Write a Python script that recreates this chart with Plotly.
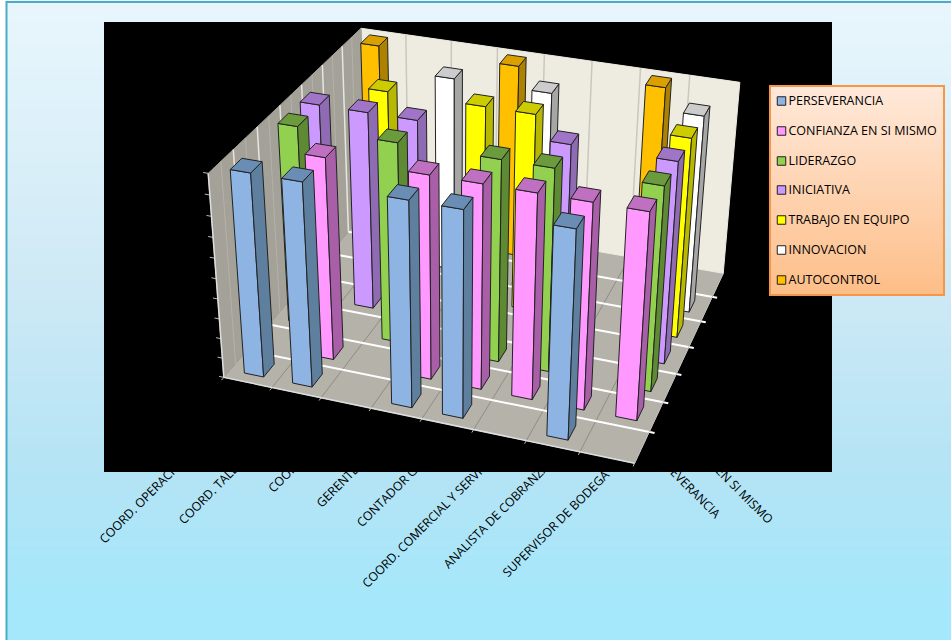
import numpy as np
import plotly.graph_objects as go

# Job titles along the front edge of the floor
categories = ['COORD. OPERACIONES', 'COORD. TALLER', 'COORD. ADMINISTRATIVO', 'GERENTE GENERAL',
              'CONTADOR GENERAL', 'COORD. COMERCIAL Y SERVICIO', 'ANALISTA DE COBRANZAS', 'SUPERVISOR DE BODEGA']

# Competencies, front row first
series_names = ['PERSEVERANCIA', 'CONFIANZA EN SI MISMO', 'LIDERAZGO', 'INICIATIVA',
                'TRABAJO EN EQUIPO', 'INNOVACION', 'AUTOCONTROL']

# Score per job title; None means no bar
perseverancia = [100, 100, None, 100, 100, None, 100, None]
confianza = [None, 100, None, 100, 100, 100, 100, 100]
liderazgo = [100, None, 100, None, 100, 100, None, 100]
iniciativa = [100, 100, 100, None, None, 100, None, 100]
trabajo_equipo = [None, 100, None, 100, 100, None, None, 100]
innovacion = [None, None, 100, None, 100, None, None, 100]
autocontrol = [100, None, None, 100, None, None, 100, None]
series_values = [perseverancia, confianza, liderazgo, iniciativa, trabajo_equipo, innovacion, autocontrol]

# Front, side and top shade of each series
shades = [('#8DB4E3', '#5F7F9F', '#6A8DB5'), ('#FF99FF', '#A85FA8', '#C070C0'),
          ('#92D050', '#5E8A33', '#6B9B3C'), ('#CC99FF', '#8F6BB3', '#A075C8'),
          ('#FFFF00', '#B8B800', '#CCCC00'), ('#FFFFFF', '#A6A6A6', '#CCCCCC'),
          ('#FFC000', '#AD8200', '#D9A000')]

# Perspective camera: (category, series, value) -> page position
CAMERA = np.array([[45.898221, 29.082149, -0.2893554, 223.86156],
                   [6.7513682, -18.72905, -2.1505362, 377.36597],
                   [-0.0085786223, 0.023903367, -0.00063748605, 1.0]])
BAR_W, BAR_D = 0.40, 0.47
EDGE = '#222222'
N_CAT, N_SER, TOP = len(categories), len(series_names), 100


def project(points):
    h = np.c_[np.array(points, float), np.ones(len(points))] @ CAMERA.T
    return h[:, :2] / h[:, 2:]


fig = go.Figure()


def face(points, fill, line=None, width=1):
    p = project(points)
    fig.add_trace(go.Scatter(x=list(p[:, 0]) + [p[0, 0]], y=list(p[:, 1]) + [p[0, 1]], mode='lines',
                             fill='toself', fillcolor=fill, line=dict(color=line or fill, width=width),
                             hoverinfo='skip'))


def rule(a, b, color, width=1):
    p = project([a, b])
    fig.add_trace(go.Scatter(x=p[:, 0], y=p[:, 1], mode='lines', line=dict(color=color, width=width),
                             hoverinfo='skip'))


# Plot area and legend panel
fig.add_trace(go.Heatmap(x=[104, 832], y=[22, 472], z=[[0]], zmin=0, zmax=1,
                         colorscale=[[0, 'black'], [1, 'black']], showscale=False, hoverinfo='skip'))
fig.add_trace(go.Heatmap(x=[770, 944], y=np.arange(86, 296), z=np.linspace(0, 1, 209).reshape(-1, 1), zmin=0, zmax=1,
                         colorscale=[[0, '#FFE9DA'], [1, '#FDBE88']], showscale=False, hoverinfo='skip'))

# Floor and walls
face([(0, 0, 0), (N_CAT, 0, 0), (N_CAT, N_SER, 0), (0, N_SER, 0)], '#B5B2A9')
face([(0, N_SER, 0), (N_CAT, N_SER, 0), (N_CAT, N_SER, TOP), (0, N_SER, TOP)], '#EEECE1')
face([(0, 0, 0), (0, N_SER, 0), (0, N_SER, TOP), (0, 0, TOP)], '#A3A198')

# Gridlines
for k in range(1, N_CAT):
    rule((k, 0, 0), (k, N_SER, 0), '#8E8C85')
    rule((k, N_SER, 0), (k, N_SER, TOP), '#C9C7BF', 1.5)
for s in range(1, N_SER):
    rule((0, s, 0), (N_CAT + .1, s, 0), 'white', 2)
    rule((0, s, 0), (0, s, TOP), '#E6E5E0', 1.5)
for s in range(N_SER):
    rule((0, s + .5, 0), (0, s + .5, TOP), '#B3B1A9')

# Axis edges and tick marks
for k in range(N_CAT + 1):
    rule((k, 0, 0), (k, -.1, 0), '#BDBDBD')
for z in range(0, TOP + 1, 10):
    rule((0, 0, z), (-.1, 0, z), '#BDBDBD')
rule((0, 0, 0), (N_CAT, 0, 0), '#DEDEDE', 1.5)
rule((0, 0, 0), (0, 0, TOP), '#DEDEDE', 1.5)
rule((N_CAT, 0, 0), (N_CAT, N_SER, 0), '#BDBDBD')

# Bars, painted from the back row forward
for s in range(N_SER - 1, -1, -1):
    for k, v in enumerate(series_values[s]):
        if v is None:
            continue
        x0, x1 = k + .5 - BAR_W / 2, k + .5 + BAR_W / 2
        y0, y1 = s + .5 - BAR_D / 2, s + .5 + BAR_D / 2
        face([(x0, y0, 0), (x1, y0, 0), (x1, y0, v), (x0, y0, v)], shades[s][0], EDGE)
        face([(x1, y0, 0), (x1, y1, 0), (x1, y1, v), (x1, y0, v)], shades[s][1], EDGE)
        face([(x0, y0, v), (x1, y0, v), (x1, y1, v), (x0, y1, v)], shades[s][2], EDGE)

# Legend entries
legend_y = [101, 131, 161, 190, 220, 250, 280]
fig.add_trace(go.Scatter(x=[781.5] * N_SER, y=legend_y, mode='markers', hoverinfo='skip',
                         marker=dict(symbol='square', size=8.5, color=[c[0] for c in shades],
                                     line=dict(color=EDGE, width=1))))
fig.add_trace(go.Scatter(x=[788.5] * N_SER, y=[y + 1 for y in legend_y], mode='text', text=series_names,
                         hoverinfo='skip', textposition='middle right',
                         textfont=dict(family='Open Sans', size=12.5, color='black')))

# Chart background: vertical gradient and frame
shapes = []
grad_y = [0, 300, 470, 610, 640]
grad_rgb = [(233, 247, 253), (205, 233, 245), (180, 228, 245), (165, 232, 252), (165, 232, 252)]
for y in range(0, 640, 2):
    c = [int(np.interp(y, grad_y, [g[i] for g in grad_rgb])) for i in range(3)]
    shapes.append(dict(type='rect', layer='below', xref='x', yref='y', x0=7, x1=951, y0=y, y1=y + 3,
                       line_width=0, fillcolor=f'rgb({c[0]},{c[1]},{c[2]})'))
shapes.append(dict(type='rect', layer='below', xref='x', yref='y', x0=6.5, x1=960, y0=2, y1=650,
                   line=dict(color='#4BACC6', width=2)))
shapes.append(dict(type='rect', layer='above', xref='x', yref='y', x0=770, x1=944, y0=86, y1=295,
                   line=dict(color='#F79646', width=2)))

layout = dict(width=951, height=640, margin=dict(l=0, r=0, t=0, b=0), showlegend=False,
              plot_bgcolor='rgba(0,0,0,0)', paper_bgcolor='white', shapes=shapes,
              xaxis=dict(visible=False, range=[0, 951]), yaxis=dict(visible=False, range=[640, 0]))


# Each slanted label is a tick on its own axis, layered under the plot area
def slanted_label(n, x, y, text, angle):
    fig.add_trace(go.Scatter(x=[None], y=[None], xaxis=f'x{n}', yaxis='y', hoverinfo='skip'))
    layout[f'xaxis{n}'] = dict(overlaying='x', anchor='free', position=1 - y / 640, range=[0, 951],
                               tickmode='array', tickvals=[x], ticktext=[text], tickangle=angle,
                               layer='below traces', showgrid=False, zeroline=False, showline=False, ticks='',
                               tickfont=dict(family='Open Sans', size=12.3, color='black'))


CHAR = 7.55 / 2 ** .5
cat_starts = [(98, 535), (175, 518), (263, 488), (315, 499), (360, 514), (349, 591), (438, 564), (499, 571)]
for i, (name, (sx, sy)) in enumerate(zip(categories, cat_starts)):
    reach = CHAR * len(name)
    slanted_label(i + 2, sx + reach, sy - reach, name, -45)
series_ends = [(723, 511), (781, 522)]
for i, (name, (ex, ey)) in enumerate(zip(series_names[:2], series_ends)):
    reach = CHAR * len(name)
    slanted_label(i + 10, ex - reach, ey - reach, name, 45)

fig.update_layout(**layout)
fig.write_html("out.html")
